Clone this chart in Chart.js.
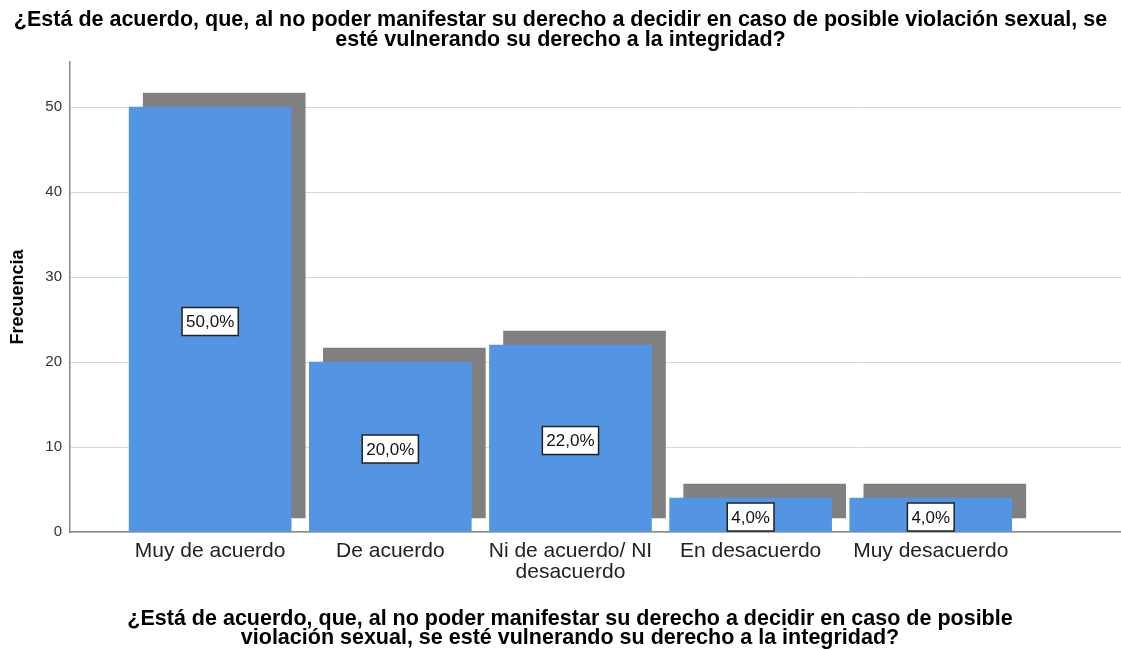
<!DOCTYPE html>
<html>
<head>
<meta charset="utf-8">
<script src="https://cdn.jsdelivr.net/npm/chart.js@4.4.1/dist/chart.umd.min.js"></script>
<style>
  html, body { margin: 0; padding: 0; background: #fff; }
  #wrap { width: 1121px; height: 649px; }
</style>
</head>
<body>
<div id="wrap"><canvas id="c" width="1121" height="649"></canvas></div>
<script>
const categories = ['Muy de acuerdo', 'De acuerdo', ['Ni de acuerdo/ NI', 'desacuerdo'], 'En desacuerdo', 'Muy desacuerdo'];
const frequencies = [50, 20, 22, 4, 4];
const percentLabels = ['50,0%', '20,0%', '22,0%', '4,0%', '4,0%'];
const yTicks = [0, 10, 20, 30, 40, 50];
const titleLines = ['¿Está de acuerdo, que, al no poder manifestar su derecho a decidir en caso de posible violación sexual, se', 'esté vulnerando su derecho a la integridad?'];
const xTitleLines = ['¿Está de acuerdo, que, al no poder manifestar su derecho a decidir en caso de posible', 'violación sexual, se esté vulnerando su derecho a la integridad?'];
const yTitle = 'Frecuencia';

const BLUE = '#5394E3';
const SHADOW = '#808080';
const SH_X = 0.078;   // shadow shift in category units
const SH_Y = 1.647;   // shadow shift in value units

const blueData = frequencies.map((v, i) => ({ x: i, y: v }));
const shadowData = frequencies.map((v, i) => ({ x: i + SH_X, y: [SH_Y, v + SH_Y] }));

const labelPlugin = {
  id: 'labelsAndTitle',
  afterDatasetsDraw(chart) {
    const ctx = chart.ctx;
    const xs = chart.scales.x, ys = chart.scales.y;
    ctx.save();
    ctx.font = '17px "Liberation Sans", Arial, sans-serif';
    ctx.textAlign = 'center';
    ctx.textBaseline = 'middle';
    frequencies.forEach((v, i) => {
      const cx = xs.getPixelForValue(i);
      const cy = ys.getPixelForValue(v / 2) + 2;
      const t = percentLabels[i];
      const w = ctx.measureText(t).width + 8;
      const h = 28;
      ctx.fillStyle = '#ffffff';
      ctx.fillRect(cx - w / 2, cy - h / 2, w, h);
      ctx.strokeStyle = '#222';
      ctx.lineWidth = 1.5;
      ctx.strokeRect(cx - w / 2, cy - h / 2, w, h);
      ctx.fillStyle = '#111';
      ctx.fillText(t, cx, cy + 1);
    });
    ctx.font = 'bold 21.5px "Liberation Sans", Arial, sans-serif';
    ctx.fillStyle = '#000';
    ctx.fillText(xTitleLines[0], 570, 619);
    ctx.fillText(xTitleLines[1], 570, 638);
    ctx.restore();
  }
};

new Chart(document.getElementById('c'), {
  type: 'bar',
  data: {
    datasets: [
      { data: blueData, backgroundColor: BLUE, barThickness: 162, grouped: false, order: 0 },
      { data: shadowData, backgroundColor: SHADOW, barThickness: 162, grouped: false, order: 1 }
    ]
  },
  options: {
    responsive: false,
    animation: false,
    events: [],
    layout: { padding: { left: 0, right: 0, top: 0, bottom: 0 } },
    plugins: {
      legend: { display: false },
      tooltip: { enabled: false },
      title: {
        display: true,
        text: titleLines,
        color: '#000',
        font: { family: '"Liberation Sans", Arial, sans-serif', size: 21.5, weight: 'bold', lineHeight: 0.93 },
        padding: { top: 10, bottom: 12 }
      }
    },
    scales: {
      x: {
        type: 'linear',
        offset: false,
        min: -0.778,
        max: 5.056,
        afterBuildTicks: s => { s.ticks = categories.map((_, i) => ({ value: i })); },
        afterFit: s => { s.height = 117; },
        grid: { display: false, drawTicks: false, offset: false },
        border: { display: true, color: '#8a8a8a', width: 1.5 },
        ticks: {
          autoSkip: false,
          maxRotation: 0,
          padding: 9,
          color: '#222',
          font: { family: '"Liberation Sans", Arial, sans-serif', size: 21, lineHeight: 1.0 },
          callback: (v) => categories[Math.round(v)]
        }
      },
      y: {
        min: 0,
        max: 55.3,
        afterBuildTicks: s => { s.ticks = yTicks.map(v => ({ value: v })); },
        afterFit: s => { s.width = 70; },
        grid: { color: '#d9d9d9', lineWidth: 1, drawTicks: false },
        border: { display: true, color: '#8a8a8a', width: 1.5 },
        ticks: {
          padding: 8,
          color: '#333',
          font: { family: '"Liberation Sans", Arial, sans-serif', size: 15 }
        },
        title: {
          display: true,
          text: yTitle,
          color: '#000',
          padding: { top: 7, bottom: 0 },
          font: { family: '"Liberation Sans", Arial, sans-serif', size: 18, weight: 'bold' }
        }
      }
    }
  },
  plugins: [labelPlugin]
});
</script>
</body>
</html>
